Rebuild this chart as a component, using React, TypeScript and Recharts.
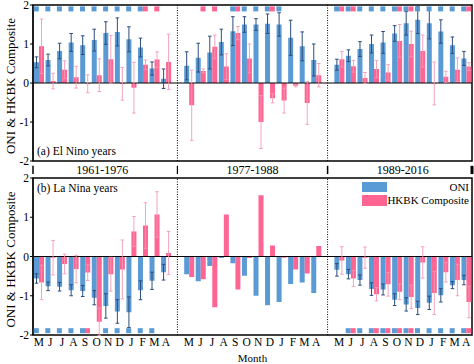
import {
  ComposedChart, Bar, ErrorBar, Scatter, XAxis, YAxis,
  ReferenceLine, ReferenceArea,
} from 'recharts';

const months = ['M', 'J', 'J', 'A', 'S', 'O', 'N', 'D', 'J', 'F', 'M', 'A'];
const periods = ['1961-1976', '1977-1988', '1989-2016'];

// (a) El Nino years: 3 periods x 12 months
const ninoOni = [
  0.53, 0.59, 0.82, 1.04, 0.97, 1.10, 1.28, 1.31, 1.12, 0.91, 0.37, 0.11,
  0.44, 0.65, 0.78, 1.05, 1.33, 1.50, 1.50, 1.52, 1.50, 1.16, 0.94, 0.59,
  0.47, 0.70, 0.87, 1.00, 1.04, 1.27, 1.53, 1.62, 1.53, 1.32, 0.97, 0.63,
];
const ninoOniErr = [
  0.14, 0.15, 0.20, 0.23, 0.24, 0.28, 0.29, 0.36, 0.32, 0.24, 0.17, 0.25,
  0.36, 0.37, 0.42, 0.33, 0.37, 0.20, 0.15, 0.25, 0.30, 0.45, 0.37, 0.41,
  0.14, 0.15, 0.19, 0.23, 0.28, 0.20, 0.30, 0.35, 0.40, 0.30, 0.21, 0.18,
];
const ninoHk = [
  0.94, 0.05, 0.34, 0.15, -0.02, 0.20, 0.61, -0.02, -0.12, 0.47, 0.60, 0.54,
  -0.57, 0.31, 0.93, 0.42, 1.28, 0.63, -1.00, -0.39, -0.45, -0.07, -0.51, 0.20,
  0.61, 0.43, 0.13, 0.36, 0.27, 1.08, 1.00, 0.82, -0.01, 0.16, 0.34, 0.42,
];
const ninoHkErr = [
  0.70, 0.20, 0.23, 0.28, 0.23, 0.42, 0.61, 0.42, 0.65, 0.12, 0.20, 0.71,
  0.90, 0.05, 0.30, 0.33, 0.17, 0.37, 0.68, 0.12, 0.32, 0.03, 0.55, 0.30,
  0.20, 0.15, 0.14, 0.22, 0.20, 0.42, 0.33, 0.41, 0.55, 0.14, 0.30, 0.10,
];
const ninoOniSig = [
  1, 1, 1, 1, 1, 1, 1, 1, 1, 1, 0, 0,
  0, 0, 0, 0, 1, 1, 1, 1, 1, 0, 0, 0,
  1, 1, 1, 1, 1, 1, 1, 1, 1, 1, 1, 1,
];
const ninoHkSig = [
  0, 0, 0, 0, 0, 0, 0, 0, 0, 1, 1, 0,
  0, 1, 1, 0, 1, 0, 0, 1, 0, 0, 0, 0,
  1, 1, 0, 0, 0, 1, 1, 0, 0, 0, 0, 1,
];

// (b) La Nina years
const ninaOni = [
  -0.56, -0.76, -0.77, -0.86, -0.88, -1.05, -1.26, -1.40, -1.42, -0.86, -0.62, -0.40,
  -0.45, -0.63, -0.24, -0.04, -0.17, -0.49, -1.00, -1.24, -1.16, -0.70, -0.66, -0.93,
  -0.34, -0.45, -0.60, -0.83, -0.84, -1.10, -1.22, -1.31, -1.18, -0.99, -0.73, -0.60,
];
const ninaOniErr = [
  0.12, 0.11, 0.11, 0.14, 0.14, 0.18, 0.31, 0.30, 0.39, 0.24, 0.22, 0.20,
  null, null, null, null, null, null, null, null, null, null, null, null,
  0.16, 0.12, 0.13, 0.16, 0.14, 0.15, 0.17, 0.17, 0.17, 0.17, 0.09, 0.12,
];
const ninaHk = [
  -0.66, -0.03, -0.19, -0.32, -0.41, -1.66, -0.45, -0.33, 0.64, 0.79, 1.07, 0.09,
  -0.52, -0.58, -1.29, 1.07, -0.84, -0.04, 1.56, 0.28, -0.03, -0.33, -0.43, 0.27,
  -0.10, -0.56, -0.03, -0.96, -0.71, -0.90, -1.03, -0.15, -0.93, -0.40, -0.60, -1.16,
];
const ninaHkErr = [
  0.44, 0.44, 0.25, 0.35, 0.20, 0.35, 0.43, 0.75, 0.38, 0.58, 0.58, 0.55,
  null, null, null, null, null, null, null, null, null, null, null, null,
  0.35, 0.20, 0.27, 0.17, 0.30, 0.20, 0.30, 0.40, 0.55, 0.25, 0.40, 0.40,
];
const ninaOniSig = [
  1, 1, 1, 1, 1, 0, 1, 1, 1, 1, 1, 0,
  0, 0, 0, 0, 0, 0, 0, 0, 0, 0, 0, 0,
  0, 1, 1, 1, 1, 1, 1, 1, 1, 1, 1, 1,
];
const ninaHkSig = [
  0, 0, 0, 0, 1, 0, 0, 0, 0, 0, 0, 0,
  0, 0, 0, 0, 0, 0, 0, 0, 0, 0, 0, 0,
  0, 1, 0, 1, 1, 1, 1, 0, 0, 0, 0, 1,
];

const BLUE = '#5b9bd5';
const PINK = '#fe6592';
const BLUE_ERR = '#2c4d7c';
const PINK_ERR = '#f59ab4';
const FONT = '"Liberation Serif", "Times New Roman", serif';
const BAR_W = 5;
// header band above panel (b), in value units just over its top (2)
const BAND = [2.1, 2.31];

// one row per month, with an empty row between periods
const rows: any[] = [];
periods.forEach((_, p) => {
  months.forEach((m, j) => {
    const i = p * 12 + j;
    rows.push({
      k: `p${p}m${j}`, m,
      aO: ninoOni[i], aOe: ninoOniErr[i], aH: ninoHk[i], aHe: ninoHkErr[i],
      aOs: ninoOniSig[i] ? 1.9 : null, aHs: ninoHkSig[i] ? 1.9 : null,
      bO: ninaOni[i], bOe: ninaOniErr[i], bH: ninaHk[i], bHe: ninaHkErr[i],
      bOs: ninaOniSig[i] ? -1.89 : null, bHs: ninaHkSig[i] ? -1.89 : null,
    });
  });
  if (p < periods.length - 1) rows.push({ k: `gap${p}`, m: '' });
});
const monthKeys = rows.filter(r => r.m).map(r => r.k);
const monthOf: Record<string, string> = Object.fromEntries(rows.map(r => [r.k, r.m]));

const marker = (key: string, color: string, left: boolean) => (props: any) => {
  const { cx, cy, payload } = props;
  if (!payload || payload[key] == null || cx == null || cy == null) return <g />;
  return <rect x={left ? cx - BAR_W : cx} y={cy - 2.5} width={BAR_W} height={5} fill={color} />;
};

const yLabel = (props: any) => {
  const vb = props.viewBox || {};
  const x = (vb.x ?? 0) + 10;
  const y = (vb.y ?? 0) + (vb.height ?? 0) / 2 + 3;
  return (
    <text x={x} y={y} transform={`rotate(-90 ${x} ${y})`} textAnchor="middle" dominantBaseline="central"
      fontSize={13} fontFamily={FONT} fill="#000">
      {'ONI & HKBK Composite'}
    </text>
  );
};

function Panel({ p, height, margin, bottom }: {
  p: 'a' | 'b';
  height: number;
  margin: { top: number; right: number; bottom: number; left: number };
  bottom?: boolean;
}) {
  return (
    <ComposedChart width={474} height={height} data={rows} margin={margin}
      barCategoryGap="10%" barGap={0} barSize={BAR_W}>
      {bottom ? (
        <XAxis dataKey="k" interval={0} tickLine={false} axisLine={false} tickSize={0} tickMargin={3} height={29}
          tick={{ fontSize: 11.5, fill: '#000', fontFamily: FONT }}
          tickFormatter={(v: string) => monthOf[v] ?? ''}
          label={{ value: 'Month', position: 'insideBottom', offset: 2, fontSize: 11, fill: '#000', fontFamily: FONT }} />
      ) : (
        <XAxis dataKey="k" hide />
      )}
      <XAxis xAxisId="tk" dataKey="k" orientation={bottom ? 'bottom' : 'top'} mirror ticks={monthKeys}
        interval={0} tick={false} axisLine={false} tickLine={{ stroke: '#000' }} tickSize={3} height={10} />
      <YAxis domain={[-2, 2]} ticks={[-2, -1, 0, 1, 2]} allowDataOverflow width={33} interval={0}
        tickSize={3} tickMargin={1} axisLine={{ stroke: '#000' }} tickLine={{ stroke: '#000' }}
        tick={{ fontSize: 11.5, fill: '#000', fontFamily: FONT }} label={{ content: yLabel }} />
      <ReferenceArea y1={-2} y2={2} fill="none" stroke="#000" strokeWidth={1.5} ifOverflow="visible" />
      <ReferenceLine y={0} stroke="#000" />
      <ReferenceLine x="gap0" stroke="#000" strokeDasharray="1 1.5" />
      <ReferenceLine x="gap1" stroke="#000" strokeDasharray="1 1.5" />

      {/* period header band (drawn with panel b, above its frame) */}
      {bottom && periods.map((pd, i) => (
        <ReferenceArea key={pd} x1={`p${i}m0`} x2={`p${i}m11`} y1={BAND[0]} y2={BAND[1]}
          fill="none" stroke="none" ifOverflow="visible"
          label={{ value: pd, position: 'center', fontSize: 12, fill: '#000', fontFamily: FONT }} />
      ))}
      {bottom && [
        { x: 'p0m0', pos: 'start', w: 1.5 },
        { x: 'gap0', pos: 'middle', w: 1.2 },
        { x: 'gap1', pos: 'middle', w: 1.5 },
        { x: 'p2m11', pos: 'end', w: 3 },
      ].map(t => (
        <ReferenceLine key={t.x} position={t.pos as any} ifOverflow="visible" stroke="#000" strokeWidth={t.w}
          segment={[{ x: t.x, y: BAND[0] }, { x: t.x, y: BAND[1] }]} />
      ))}

      <Bar dataKey={`${p}O`} fill={BLUE} isAnimationActive={false}>
        <ErrorBar dataKey={`${p}Oe`} width={1.8} stroke={BLUE_ERR} strokeWidth={1} />
      </Bar>
      <Bar dataKey={`${p}H`} fill={PINK} isAnimationActive={false}>
        <ErrorBar dataKey={`${p}He`} width={1.8} stroke={PINK_ERR} strokeWidth={0.9} />
      </Bar>
      <Scatter dataKey={`${p}Os`} shape={marker(`${p}Os`, BLUE, true)} isAnimationActive={false} />
      <Scatter dataKey={`${p}Hs`} shape={marker(`${p}Hs`, PINK, false)} isAnimationActive={false} />
    </ComposedChart>
  );
}

export default function App() {
  return (
    <div style={{ position: 'absolute', left: 0, top: 0, width: 474, height: 364, background: '#fff', fontFamily: FONT, color: '#000' }}>
      <div style={{ position: 'absolute', left: 0, top: 0 }}>
        <Panel p="a" height={170} margin={{ top: 5, right: 2, bottom: 9, left: 0 }} />
      </div>

      <div style={{ position: 'absolute', left: 0, top: 161 }}>
        <Panel p="b" height={203} margin={{ top: 17, right: 2, bottom: 0, left: 0 }} bottom />
      </div>

      <div style={{ position: 'absolute', left: 37, top: 145, fontSize: 11.5, lineHeight: '12px', whiteSpace: 'nowrap' }}>
        (a) El Nino years
      </div>
      <div style={{ position: 'absolute', left: 37, top: 182, fontSize: 11.5, lineHeight: '12px', whiteSpace: 'nowrap' }}>
        (b) La Nina years
      </div>

      {/* legend */}
      {[{ name: 'ONI', color: BLUE }, { name: 'HKBK Composite', color: PINK }].map((s, i) => (
        <div key={s.name} style={{ position: 'absolute', left: 362, top: 181.5 + i * 13.5, width: 107, height: 11, display: 'flex', alignItems: 'center' }}>
          <div style={{ width: 25, height: 10.5, background: s.color }} />
          <div style={{ flex: 1, textAlign: 'right', fontSize: 11, lineHeight: '11px', whiteSpace: 'nowrap' }}>{s.name}</div>
        </div>
      ))}
    </div>
  );
}
